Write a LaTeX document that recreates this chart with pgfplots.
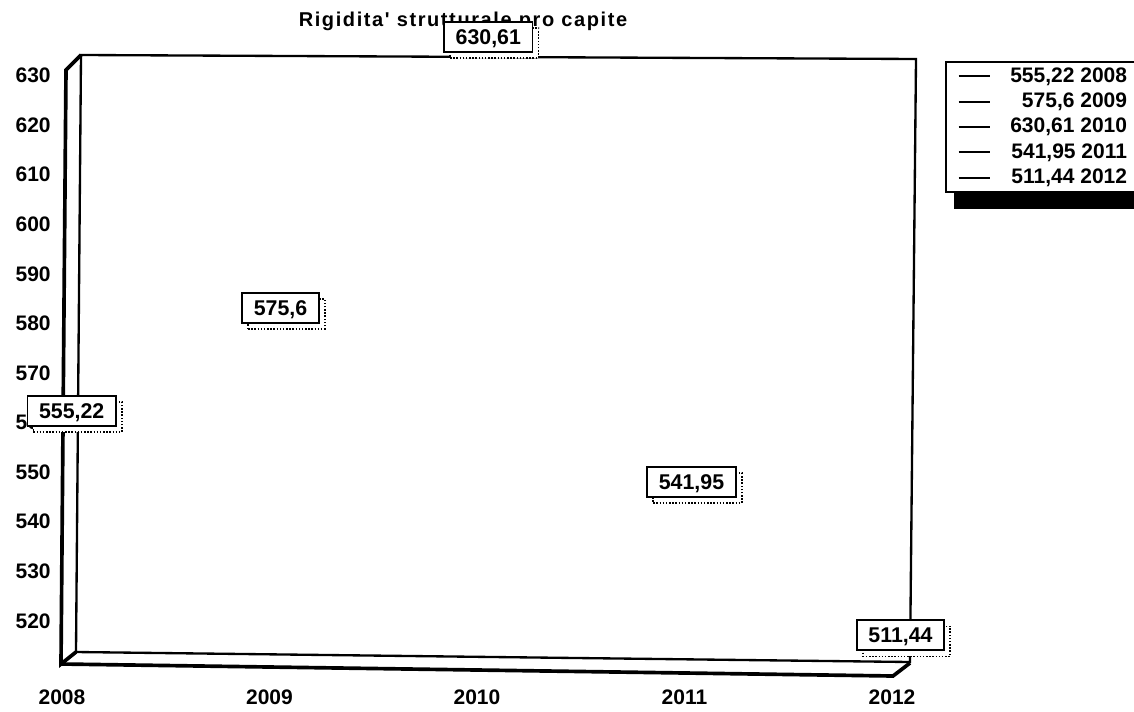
\documentclass[border=0pt]{standalone}
\usepackage{fontspec}
\setmainfont{Liberation Sans}
\newfontfamily\titlefont[LetterSpace=8]{Liberation Sans}
\usepackage{pgfplots}
\pgfplotsset{compat=1.18}
\usetikzlibrary{shadows}
\pgfplotsset{
  lbl/.style 2 args={every node near coord/.append style={anchor=center, draw=black, line width=1pt, fill=white,
     inner xsep=7pt, inner ysep=0pt, minimum height=18pt, text height=9pt, text depth=0pt,
     font=\bfseries\fontsize{12.8}{15}\selectfont, text=black,
     general shadow={shadow xshift=3.6pt, shadow yshift=-3.6pt, fill=white, draw=black, densely dotted, line width=0.9pt},
     xshift=#1, yshift=#2}}
}
\begin{document}
\begin{tikzpicture}
\useasboundingbox (-37.2pt,-28.2pt) rectangle (643.2pt,398.4pt);
\begin{scope}[x=0.6pt,y=-0.6pt,shift={(-37.2pt,398.4pt)}]
 \draw[line width=1.4pt, line join=miter] (81,55) -- (916,59) -- (910,662) -- (76,652) -- cycle;
 \draw[line width=2.2pt, line join=miter] (76,652) -- (61,664) -- (66,70) -- (81,55);
 \draw[line width=2.2pt, line join=miter] (61,664) -- (893,676) -- (910,663);
 \node[font=\titlefont\bfseries\fontsize{12}{14}\selectfont] at (463,21) {Rigidita{\char"0027} strutturale pro capite};
 % legend shadow
 \fill[black] (954,150) rectangle (1140,209);
\end{scope}
\begin{axis}[
  at={(0,0)}, anchor=south west,
  scale only axis, width=498pt, height=356.4pt,
  xmin=2008, xmax=2012, ymin=511.3, ymax=631.1,
  axis line style={draw=none}, major tick length=0pt, tick style={draw=none},
  xtick={2008,2009,2010,2011,2012}, xticklabels={2008,2009,2010,2011,2012},
  ytick={520,530,...,630},
  /pgf/number format/assume math mode=true,
  /pgf/number format/1000 sep={},
  tick label style={font=\bfseries\fontsize{12.6}{15}\selectfont},
  yticklabel style={anchor=east, inner sep=0pt, xshift=-6.6pt},
  xticklabel style={anchor=center, inner sep=0pt, yshift=-19.8pt},
  clip=false,
  legend style={at={(1.0639,1.015)}, anchor=north west, draw=black, line width=1pt, fill=white,
    inner xsep=7pt, inner ysep=1pt, row sep=0pt,
    font=\bfseries\fontsize{12.6}{15}\selectfont,
    nodes={text height=9.5pt, text depth=2.5pt, inner ysep=1.6pt}},
  legend cell align=right,
  legend image code/.code={\draw[black, line width=1.3pt] (0pt,0pt) -- (19pt,0pt); \path[draw=none] (0pt,0pt) -- (29pt,0pt);},
]
\addplot[black, mark=none, nodes near coords={555,22}, lbl={5.8pt}{21.2pt}] coordinates {(2008,555.22)};
\addlegendentry{555,22 2008}
\addplot[black, mark=none, nodes near coords={575,6}, lbl={6.6pt}{22.4pt}] coordinates {(2009,575.6)};
\addlegendentry{575,6 2009}
\addplot[black, mark=none, nodes near coords={630,61}, lbl={6.8pt}{21.3pt}] coordinates {(2010,630.61)};
\addlegendentry{630,61 2010}
\addplot[black, mark=none, nodes near coords={541,95}, lbl={4.2pt}{18pt}] coordinates {(2011,541.95)};
\addlegendentry{541,95 2011}
\addplot[black, mark=none, nodes near coords={511,44}, lbl={5.1pt}{16.8pt}] coordinates {(2012,511.44)};
\addlegendentry{511,44 2012}
\end{axis}
\end{tikzpicture}
\end{document}
